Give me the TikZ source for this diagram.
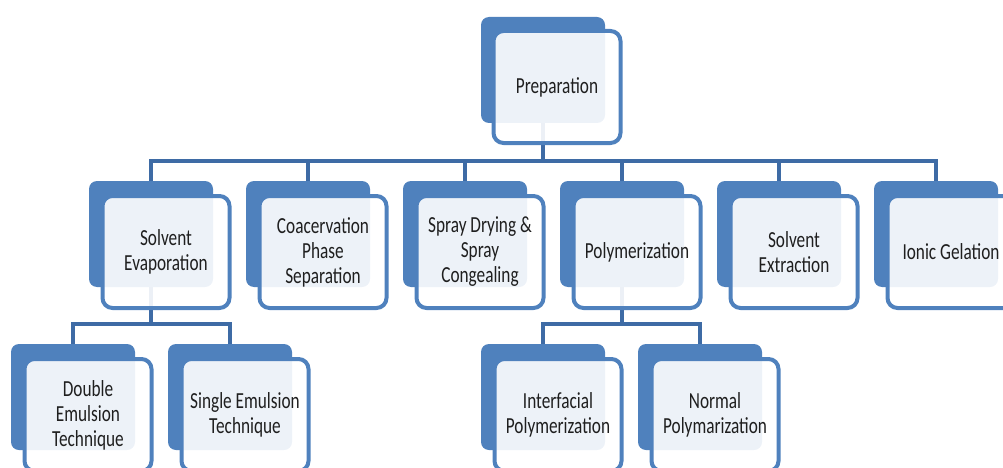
\documentclass[tikz,border=0pt]{standalone}
\usepackage{fontspec}
\setmainfont{Carlito}[FakeStretch=0.75]
\usepackage{tikz}
\definecolor{boxblue}{HTML}{4F81BD}
\definecolor{linkblue}{HTML}{3E6BA5}
\definecolor{txtgray}{HTML}{1F1F1F}
\tikzset{
  backbox/.style={fill=boxblue, rounded corners=8pt, minimum width=124pt, minimum height=106pt, inner sep=0pt},
  frontbox/.style={draw=boxblue, line width=4pt, fill=white, fill opacity=0.9, text opacity=1,
    rounded corners=10pt, minimum width=127pt, minimum height=112pt, inner sep=2pt, text width=123pt,
    align=flush center, text=txtgray, font=\fontsize{23}{25}\selectfont},
  link/.style={draw=linkblue, line width=4.5pt}
}

\begin{document}
\begin{tikzpicture}[x=1pt, y=-1pt]
  \useasboundingbox (0,0) rectangle (1003,468);
  \coordinate (bar) at (0,161);
  \coordinate (barL) at (0,324);
  % back boxes
  \node[backbox] (prep) at (543,70) {};
  \node[backbox] (solv) at (151,234) {};
  \node[backbox] (coac) at (308,234) {};
  \node[backbox] (spray) at (465,234) {};
  \node[backbox] (poly) at (622,234) {};
  \node[backbox] (sext) at (779,234) {};
  \node[backbox] (ionic) at (936,234) {};
  \node[backbox] (dbl) at (73,397) {};
  \node[backbox] (sgl) at (230,397) {};
  \node[backbox] (intf) at (543,397) {};
  \node[backbox] (norm) at (700,397) {};
  % connectors
  \draw[link] (prep.south) -- (prep.south |- bar);
  \draw[link] (solv.north) -- (solv.north |- bar) -- (ionic.north |- bar) -- (ionic.north);
  \foreach \n in {coac,spray,poly,sext}
    \draw[link] (\n.north) -- (\n.north |- bar);
  \draw[link] (solv.south) -- (solv.south |- barL);
  \draw[link] (dbl.north) -- (dbl.north |- barL) -- (sgl.north |- barL) -- (sgl.north);
  \draw[link] (poly.south) -- (poly.south |- barL);
  \draw[link] (intf.north) -- (intf.north |- barL) -- (norm.north |- barL) -- (norm.north);
  % front boxes
  \node[frontbox] (prepT) at ([shift={(14,17)}]prep) {Preparation};
  \node[frontbox] (solvT) at ([shift={(15,18)}]solv) {Solvent\\Evaporation};
  \node[frontbox] (coacT) at ([shift={(15,18)}]coac) {Coacervation\\Phase\\Separation};
  \node[frontbox] (sprayT) at ([shift={(15,18)}]spray) {Spray Drying \&\\Spray\\Congealing};
  \node[frontbox] (polyT) at ([shift={(15,18)}]poly) {Polymerization};
  \node[frontbox] (sextT) at ([shift={(15,18)}]sext) {Solvent\\Extraction};
  \node[frontbox] (ionicT) at ([shift={(15,18)}]ionic) {Ionic Gelation};
  \node[frontbox] (dblT) at ([shift={(15,18)}]dbl) {Double\\Emulsion\\Technique};
  \node[frontbox] (sglT) at ([shift={(15,18)}]sgl) {Single Emulsion\\Technique};
  \node[frontbox] (intfT) at ([shift={(15,18)}]intf) {Interfacial\\Polymerization};
  \node[frontbox] (normT) at ([shift={(15,18)}]norm) {Normal\\Polymarization};
\end{tikzpicture}
\end{document}
